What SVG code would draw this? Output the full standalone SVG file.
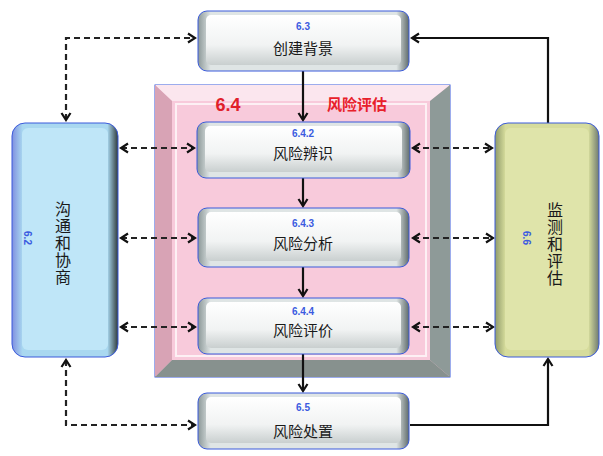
<svg xmlns="http://www.w3.org/2000/svg" width="603" height="456" viewBox="0 0 603 456">
<defs>
<style>
.num{font-family:"Liberation Sans","DejaVu Sans",sans-serif;font-size:10px;fill:#3b5be0;text-anchor:middle;font-weight:bold}
.lbl{font-family:"Noto Sans CJK SC","Noto Sans",sans-serif;font-size:15px;fill:#1a1a1a;text-anchor:middle}
.vlbl{font-family:"Noto Sans CJK SC","Noto Sans",sans-serif;font-size:16px;fill:#1a1a1a;text-anchor:middle;writing-mode:vertical-rl;letter-spacing:1px}
.solid{fill:none;stroke:#111;stroke-width:2.2}
.dash{fill:none;stroke:#222;stroke-width:2.2;stroke-dasharray:6 4}
.outer{stroke:#3b5bdb;stroke-width:1}
</style>
<marker id="ah" viewBox="-10 -6 12 12" refX="0" refY="0" markerWidth="12" markerHeight="12" markerUnits="userSpaceOnUse" orient="auto-start-reverse">
<path d="M-7,-4.5 L0,0 L-7,4.5" fill="none" stroke="#111" stroke-width="2.2" stroke-linejoin="miter"/>
</marker>
<linearGradient id="gSide" x1="0" y1="0" x2="1" y2="0">
<stop offset="0" stop-color="#8c9898"/>
<stop offset="0.06" stop-color="#dfe5e5"/>
<stop offset="0.94" stop-color="#dfe5e5"/>
<stop offset="1" stop-color="#5f6b6b"/>
</linearGradient>
<linearGradient id="gFace" x1="0" y1="0" x2="0" y2="1">
<stop offset="0" stop-color="#ffffff"/>
<stop offset="0.6" stop-color="#f1f3f3"/>
<stop offset="1" stop-color="#c9cfcf"/>
</linearGradient>
<linearGradient id="gBlue" x1="0" y1="0" x2="1" y2="0">
<stop offset="0" stop-color="#7f8fe0"/>
<stop offset="0.1" stop-color="#a9d8f0"/>
<stop offset="0.9" stop-color="#a9d8f0"/>
<stop offset="1" stop-color="#2f3a3a"/>
</linearGradient>
<linearGradient id="gYel" x1="0" y1="0" x2="1" y2="0">
<stop offset="0" stop-color="#8f9a6a"/>
<stop offset="0.1" stop-color="#d6dc9c"/>
<stop offset="0.9" stop-color="#d6dc9c"/>
<stop offset="1" stop-color="#6f7a70"/>
</linearGradient>
</defs>
<rect width="603" height="456" fill="#ffffff"/>

<!-- 6.4 frame -->
<g id="frame64">
<rect x="155" y="85" width="295" height="292" fill="#f8cadb" stroke="#3b5bdb" stroke-width="1"/>
<polygon points="155,85 450,85 430,101 172,101" fill="#fbe6ee"/>
<polygon points="155,85 172,101 172,360 155,377" fill="#d8a3b5"/>
<polygon points="450,85 450,377 430,360 430,101" fill="#8e9a98"/>
<polygon points="155,377 172,360 430,360 450,377" fill="#87918e"/>
<rect x="172" y="101" width="258" height="259" fill="#f8cadb"/>
<rect x="176" y="104" width="250" height="252" fill="none" stroke="#fdf0f4" stroke-width="2"/>
<text x="228" y="111" font-family="Liberation Sans, sans-serif" font-size="18" font-weight="bold" fill="#e0202a" text-anchor="middle">6.4</text>
<text x="357" y="110" font-family="Noto Sans CJK SC, sans-serif" font-size="15" font-weight="bold" fill="#e8202a" text-anchor="middle">风险评估</text>
</g>

<!-- connectors -->
<g id="connectors">
<line class="solid" x1="303" y1="71" x2="303" y2="120" marker-end="url(#ah)"/>
<line class="solid" x1="303" y1="178" x2="303" y2="206" marker-end="url(#ah)"/>
<line class="solid" x1="303" y1="267" x2="303" y2="296" marker-end="url(#ah)"/>
<line class="solid" x1="303" y1="354" x2="303" y2="391" marker-end="url(#ah)"/>
<polyline class="solid" points="548,123 548,38 412,38" marker-end="url(#ah)"/>
<polyline class="solid" points="410,425 548,425 548,359" marker-end="url(#ah)"/>
<polyline class="dash" points="66,120 66,38 195,38" marker-start="url(#ah)" marker-end="url(#ah)"/>
<polyline class="dash" points="66,360 66,425 195,425" marker-start="url(#ah)" marker-end="url(#ah)"/>
<line class="dash" x1="121" y1="148" x2="194" y2="148" marker-start="url(#ah)" marker-end="url(#ah)"/>
<line class="dash" x1="121" y1="238" x2="195" y2="238" marker-start="url(#ah)" marker-end="url(#ah)"/>
<line class="dash" x1="121" y1="327" x2="195" y2="327" marker-start="url(#ah)" marker-end="url(#ah)"/>
<line class="dash" x1="413" y1="148" x2="492" y2="148" marker-start="url(#ah)" marker-end="url(#ah)"/>
<line class="dash" x1="413" y1="238" x2="493" y2="238" marker-start="url(#ah)" marker-end="url(#ah)"/>
<line class="dash" x1="413" y1="327" x2="493" y2="327" marker-start="url(#ah)" marker-end="url(#ah)"/>
</g>

<g id="n63">
<rect class="outer" x="198" y="11" width="211" height="60" rx="9" fill="url(#gSide)"/>
<rect x="206" y="15" width="195" height="50" rx="5" fill="url(#gFace)"/>
<text class="num" x="303" y="30">6.3</text>
<text class="lbl" x="303" y="54">创建背景</text>
</g>
<g id="n642">
<rect class="outer" x="197" y="122" width="213" height="56" rx="9" fill="url(#gSide)"/>
<rect x="205" y="126" width="197" height="46" rx="5" fill="url(#gFace)"/>
<text class="num" x="303" y="137">6.4.2</text>
<text class="lbl" x="303" y="159">风险辨识</text>
</g>
<g id="n643">
<rect class="outer" x="198" y="208" width="211" height="59" rx="9" fill="url(#gSide)"/>
<rect x="206" y="212" width="195" height="49" rx="5" fill="url(#gFace)"/>
<text class="num" x="303" y="227">6.4.3</text>
<text class="lbl" x="303" y="249">风险分析</text>
</g>
<g id="n644">
<rect class="outer" x="198" y="298" width="211" height="56" rx="9" fill="url(#gSide)"/>
<rect x="206" y="302" width="195" height="46" rx="5" fill="url(#gFace)"/>
<text class="num" x="303" y="315">6.4.4</text>
<text class="lbl" x="303" y="336">风险评价</text>
</g>
<g id="n65">
<rect class="outer" x="198" y="393" width="211" height="56" rx="9" fill="url(#gSide)"/>
<rect x="206" y="397" width="195" height="46" rx="5" fill="url(#gFace)"/>
<text class="num" x="303" y="411">6.5</text>
<text class="lbl" x="303" y="437">风险处置</text>
</g>

<g id="n62">
<rect class="outer" x="12" y="123" width="106" height="234" rx="13" fill="url(#gBlue)"/>
<rect x="22" y="128" width="86" height="222" rx="6" fill="#bfe6f8"/>
<text class="num" transform="translate(27,238) rotate(90)" y="3.5" x="0">6.2</text>
<text class="vlbl" x="63" y="243">沟通和协商</text>
</g>

<g id="n66">
<rect class="outer" x="495" y="123" width="104" height="234" rx="13" fill="url(#gYel)"/>
<rect x="505" y="128" width="84" height="222" rx="6" fill="#dfe4aa"/>
<text class="num" transform="translate(526,238) rotate(90)" y="3.5" x="0">6.6</text>
<text class="vlbl" x="555" y="244">监测和评估</text>
</g>
</svg>
